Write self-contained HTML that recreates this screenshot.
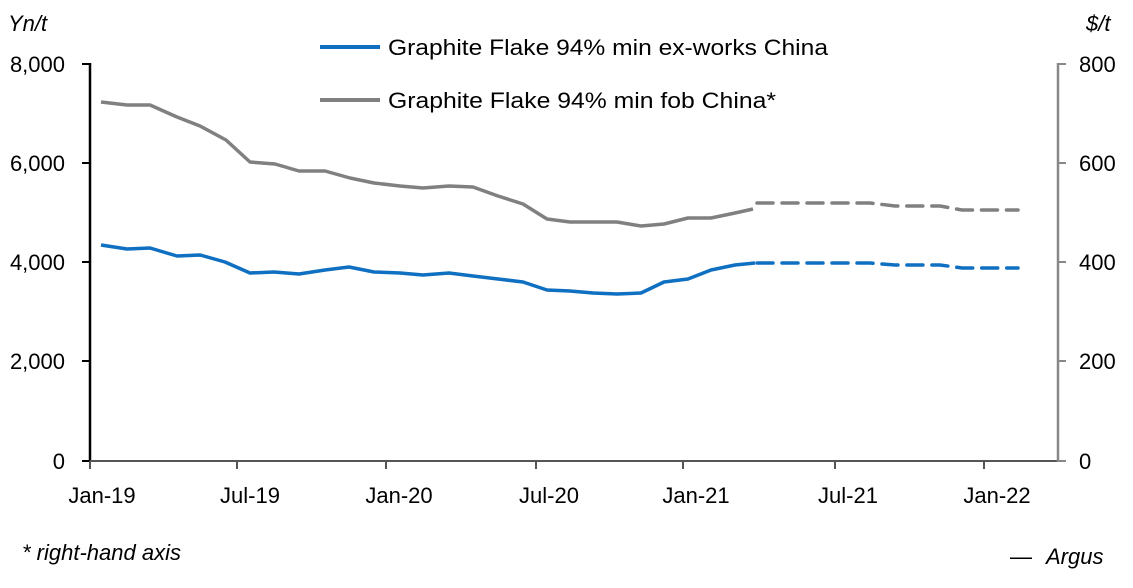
<!DOCTYPE html>
<html><head><style>
body{margin:0;background:#fff}
svg text{font-family:"Liberation Sans","DejaVu Sans",sans-serif;fill:#000}
</style></head><body>
<svg width="1133" height="583" viewBox="0 0 1133 583" xmlns="http://www.w3.org/2000/svg">
<rect width="1133" height="583" fill="#fff"/>
<g font-size="22">
<text x="8" y="31" font-style="italic">Yn/t</text>
<text x="1086" y="31" font-style="italic">$/t</text>
<g text-anchor="end">
<text x="65" y="72">8,000</text>
<text x="65" y="171">6,000</text>
<text x="65" y="270">4,000</text>
<text x="65" y="369">2,000</text>
<text x="65" y="469">0</text>
</g>
<g text-anchor="start">
<text x="1079" y="72">800</text>
<text x="1079" y="171">600</text>
<text x="1079" y="270">400</text>
<text x="1079" y="369">200</text>
<text x="1079" y="469">0</text>
</g>
<g text-anchor="middle">
<text x="102" y="503">Jan-19</text>
<text x="250" y="503">Jul-19</text>
<text x="399" y="503">Jan-20</text>
<text x="549" y="503">Jul-20</text>
<text x="696" y="503">Jan-21</text>
<text x="848" y="503">Jul-21</text>
<text x="997" y="503">Jan-22</text>
</g>
<text x="22" y="560" font-style="italic">* right-hand axis</text>
<text x="1010" y="564">—</text>
<text x="1046" y="564" font-style="italic">Argus</text>
<text x="388" y="55" textLength="440" lengthAdjust="spacingAndGlyphs">Graphite Flake 94% min ex-works China</text>
<text x="388" y="108" textLength="388" lengthAdjust="spacingAndGlyphs">Graphite Flake 94% min fob China*</text>
</g>
<line x1="320" y1="47" x2="380" y2="47" stroke="#0f6fc1" stroke-width="4"/>
<line x1="320" y1="100" x2="380" y2="100" stroke="#808080" stroke-width="4"/>
<line x1="90" y1="63" x2="90" y2="462" stroke="#000" stroke-width="2.5"/>
<g stroke="#000" stroke-width="2">
<line x1="82" y1="64" x2="90" y2="64"/><line x1="82" y1="163" x2="90" y2="163"/><line x1="82" y1="262" x2="90" y2="262"/><line x1="82" y1="361" x2="90" y2="361"/><line x1="82" y1="461" x2="90" y2="461"/>
</g>
<line x1="90" y1="461" x2="1058" y2="461" stroke="#555" stroke-width="2"/>
<g stroke="#555" stroke-width="2">
<line x1="90" y1="461" x2="90" y2="469"/><line x1="237" y1="461" x2="237" y2="469"/><line x1="386" y1="461" x2="386" y2="469"/><line x1="536" y1="461" x2="536" y2="469"/><line x1="683" y1="461" x2="683" y2="469"/><line x1="835" y1="461" x2="835" y2="469"/><line x1="984" y1="461" x2="984" y2="469"/>
</g>
<line x1="1058" y1="63" x2="1058" y2="462" stroke="#888" stroke-width="2.5"/>
<g stroke="#888" stroke-width="2">
<line x1="1058" y1="64" x2="1066" y2="64"/><line x1="1058" y1="163" x2="1066" y2="163"/><line x1="1058" y1="262" x2="1066" y2="262"/><line x1="1058" y1="361" x2="1066" y2="361"/><line x1="1058" y1="461" x2="1066" y2="461"/>
</g>
<g fill="none" stroke-width="3.5" stroke-linejoin="round">
<polyline stroke="#808080" points="101,102 127,105 150,105 177,117 200,126 226,140 250,162 275,164 299,171 325,171 350,178 374,183 400,186 423,188 449,186 473,187 498,196 523,204 547,219 570,222 593,222 617,222 641,226 664,224 688,218 711,218 735,213 753,209"/>
<polyline stroke="#808080" stroke-dasharray="16,9" stroke-linecap="round" points="757,203 870,203 895,206 940,206 962,210 1018,210"/>
<polyline stroke="#0f6fc1" points="101,245 127,249 150,248 177,256 200,255 225,262 250,273 274,272 299,274 325,270 349,267 374,272 400,273 423,275 449,273 473,276 498,279 523,282 547,290 570,291 593,293 617,294 641,293 664,282 688,279 711,270 735,265 755,263"/>
<polyline stroke="#0f6fc1" stroke-dasharray="16,9" stroke-linecap="round" points="757,263 870,263 895,265 940,265 962,268 1018,268"/>
</g>
</svg>
</body></html>
